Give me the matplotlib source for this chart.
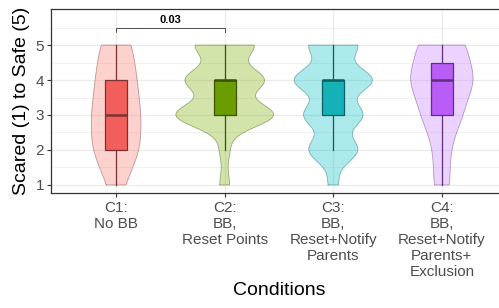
import numpy as np
import matplotlib
matplotlib.use("Agg")
import matplotlib.pyplot as plt

plt.rcParams['font.family'] = ['Liberation Sans', 'DejaVu Sans']

# responses on the 1..5 scale, counted per condition
levels = [1, 2, 3, 4, 5]
counts_c1 = [2, 6, 6, 5, 4]
counts_c2 = [1, 1, 10, 8, 6]
counts_c3 = [1, 5, 6, 8, 5]
counts_c4 = [2, 2, 5, 8, 6]

conditions = ["C1:\nNo BB", "C2:\nBB,\nReset Points", "C3:\nBB,\nReset+Notify\nParents",
              "C4:\nBB,\nReset+Notify\nParents+\nExclusion"]
fills = ["#F8766D", "#7CAE00", "#00BFC4", "#C77CFF"]
box_fills = ["#F25E5B", "#6A9E00", "#14B2B7", "#BA5CF6"]
lines = ["#7A3330", "#3B5200", "#0B5F62", "#5E2F7E"]

pval = "0.03"
pair = (1, 2)


def nrd0(x):
    # R's default bandwidth
    sd = np.std(x, ddof=1)
    iqr = np.subtract(*np.percentile(x, [75, 25]))
    lo = min(sd, iqr / 1.34)
    return 0.9 * lo * len(x) ** -0.2


def density(x, grid):
    bw = nrd0(x)
    d = np.exp(-0.5 * ((grid[:, None] - x[None, :]) / bw) ** 2).sum(axis=1)
    return d / (len(x) * bw * np.sqrt(2 * np.pi))


data = [np.repeat(levels, c).astype(float) for c in [counts_c1, counts_c2, counts_c3, counts_c4]]

grids = [np.linspace(d.min(), d.max(), 512) for d in data]
# scale = "count": width follows density * n
dens = [density(d, g) * len(d) for d, g in zip(data, grids)]
dmax = max(d.max() for d in dens)

fig = plt.figure(figsize=(4.99, 3.08), dpi=100)
ax = fig.add_axes([51 / 499, 115 / 308, 456 / 499, 184 / 308])

for i, (g, d) in enumerate(zip(grids, dens)):
    pos = i + 1
    hw = 0.45 * d / dmax
    ax.fill_betweenx(g, pos - hw, pos + hw, facecolor=fills[i], alpha=0.33,
                     edgecolor="none", zorder=2)
    ax.plot(np.r_[pos - hw, (pos + hw)[::-1], pos - hw[0]],
            np.r_[g, g[::-1], g[0]], color=lines[i], alpha=0.45, lw=0.6, zorder=2)

bp = ax.boxplot(data, positions=[1, 2, 3, 4], widths=0.2, whis=1.5,
                showfliers=False, patch_artist=True, zorder=3)
for i in range(4):
    bp['boxes'][i].set(facecolor=box_fills[i], edgecolor=lines[i], lw=0.9)
    bp['medians'][i].set(color=lines[i], lw=1.8)
    for w in bp['whiskers'][2 * i:2 * i + 2]:
        w.set(color=lines[i], lw=0.9)
    for c in bp['caps'][2 * i:2 * i + 2]:
        c.set_visible(False)

# significance bracket
ax.plot([pair[0], pair[0], pair[1], pair[1]], [5.37, 5.5, 5.5, 5.37],
        color="#333333", lw=0.6, zorder=4)
ax.text(sum(pair) / 2, 5.56, pval, ha="center", va="bottom", fontsize=8,
        fontweight="bold", color="black")

ax.set_xlim(0.4, 4.6)
ax.set_ylim(0.77, 6.03)
ax.set_yticks([1, 2, 3, 4, 5])
ax.set_yticks([1.5, 2.5, 3.5, 4.5, 5.5], minor=True)
ax.set_xticks([1, 2, 3, 4])
ax.set_xticklabels(conditions, linespacing=1.18)
ax.tick_params(axis="both", which="major", length=3, width=0.8, color="#333333",
               labelsize=11, labelcolor="#4D4D4D", pad=2)
ax.tick_params(axis="x", pad=3)
ax.tick_params(which="minor", length=0)
ax.grid(True, which="major", color="#EBEBEB", lw=0.9, zorder=0)
ax.grid(True, which="minor", axis="y", color="#EBEBEB", lw=0.5, zorder=0)
ax.set_axisbelow(True)
for s in ax.spines.values():
    s.set_color("#333333")
    s.set_linewidth(0.9)

ax.set_ylabel("Scared (1) to Safe (5)", fontsize=14, labelpad=4)
ax.set_xlabel("Conditions", fontsize=14, labelpad=2)

fig.savefig("out.png", dpi=100)
